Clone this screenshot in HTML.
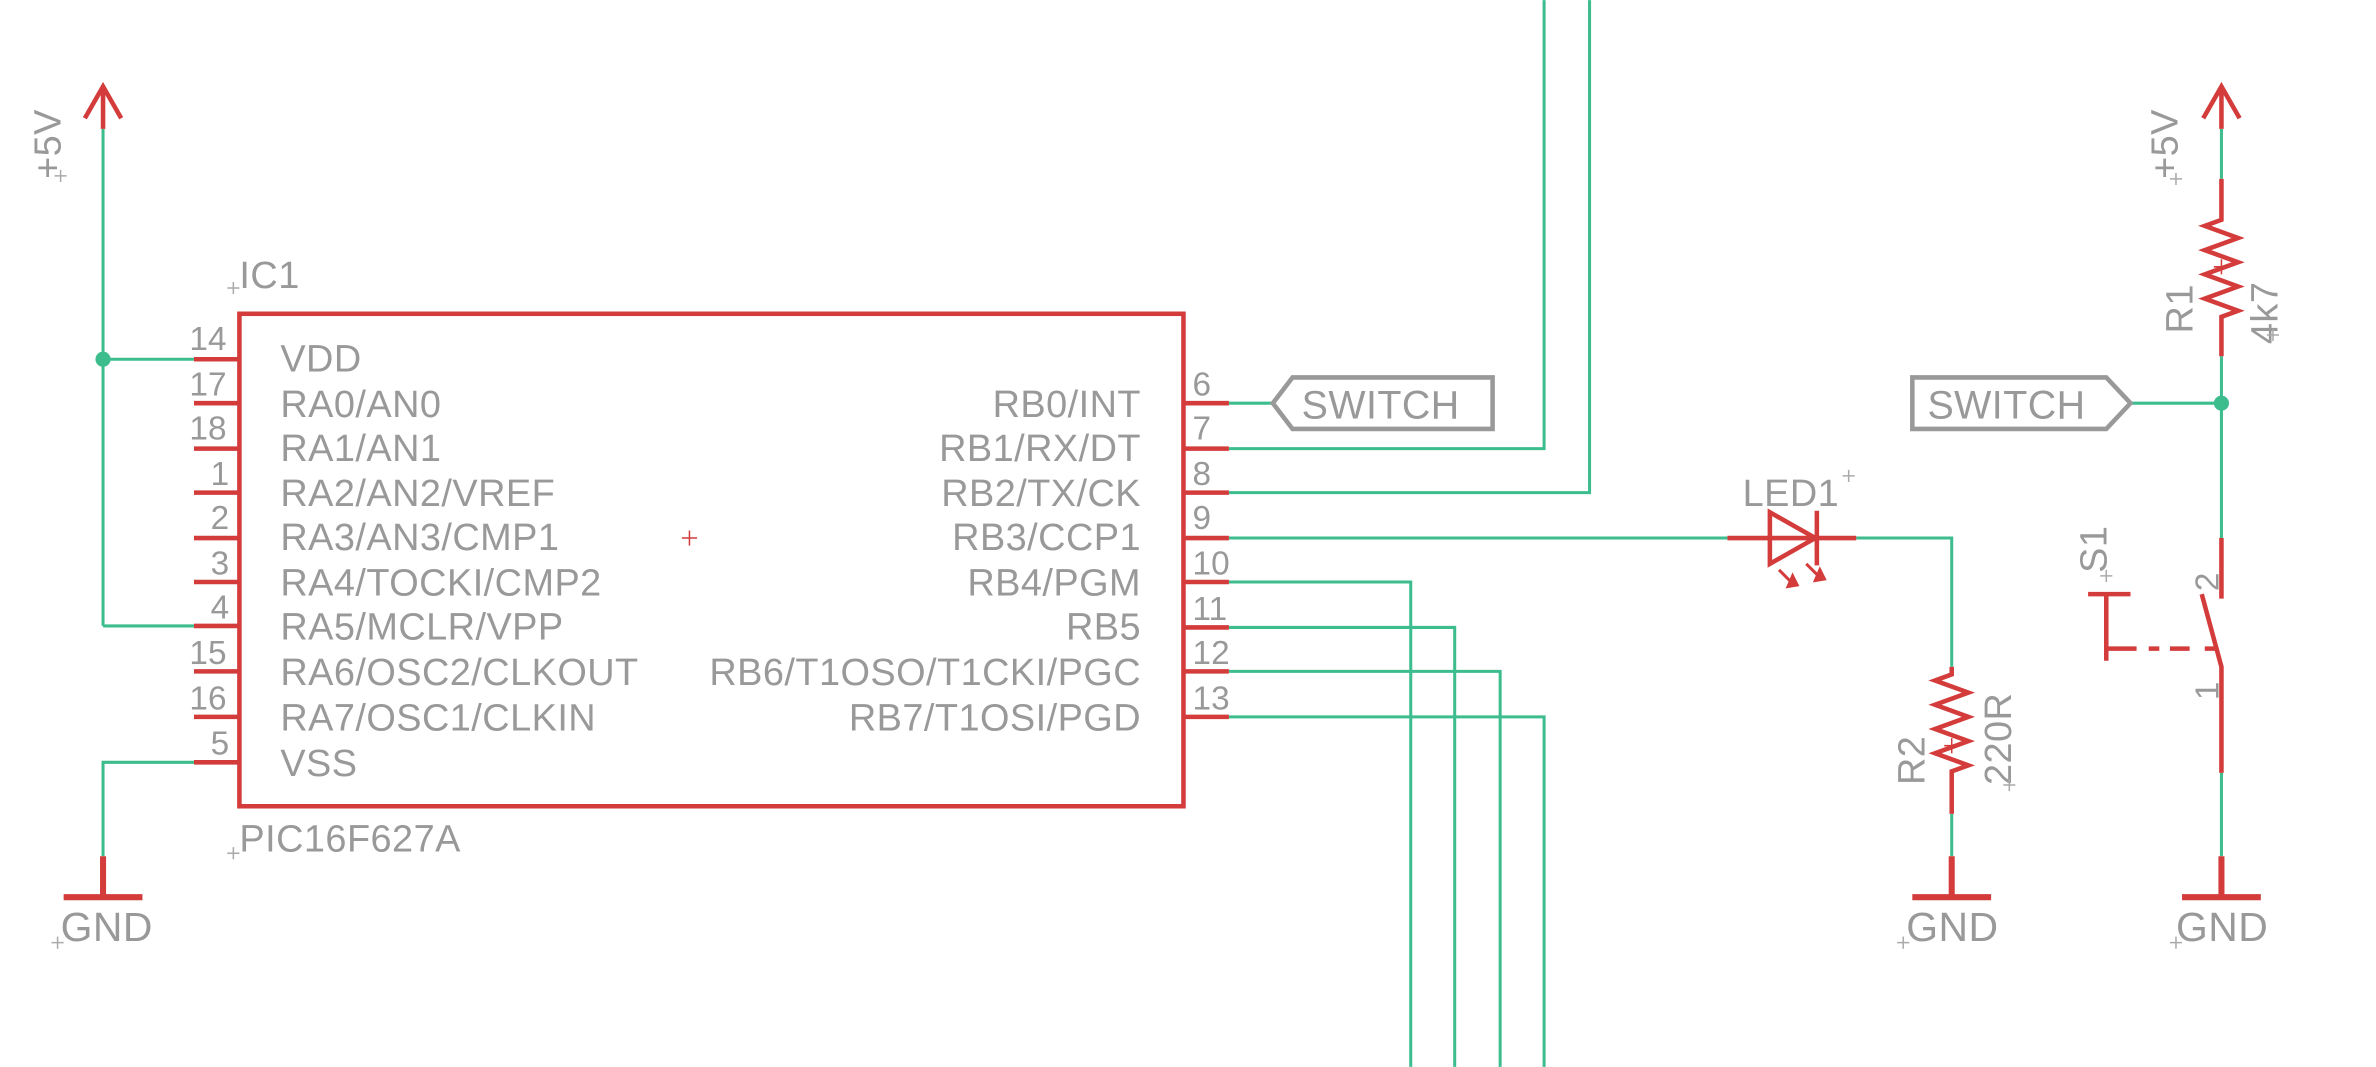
<!DOCTYPE html><html><head><style>html,body{margin:0;padding:0;background:#fff}svg{display:block}</style></head><body>
<svg width="2376" height="1067" viewBox="0 0 1568 704" xmlns="http://www.w3.org/2000/svg" font-family="Liberation Sans, sans-serif">
<g stroke="#3dbd8e" stroke-width="2" fill="none">
<path d="M68 85V413M68 237H128M68 413H128M128 503H68V565"/>
<path d="M811 266H840M811 296H1019V0M811 325H1049V0M811 355H1140M1225 355H1288V440M1288 537V565"/>
<path d="M811 384H931V704M811 414H960V704M811 443H990V704M811 473H1019V704"/>
<path d="M1466 85V118M1466 235V355M1406 266H1466M1466 510V565"/>
</g>
<circle cx="68" cy="237" r="5" fill="#3dbd8e"/><circle cx="1466" cy="266" r="5" fill="#3dbd8e"/>
<g stroke="#d43c3c" stroke-width="3" fill="none">
<rect x="158" y="207" width="623" height="325"/>
<path d="M56 78L68 57L80 78M68 57V85M1454 78L1466 57L1478 78M1466 57V85"/>
<path d="M128 237H158M128 266H158M128 296H158M128 325H158M128 355H158M128 384H158M128 413H158M128 443H158M128 473H158M128 503H158"/>
<path d="M781 266H811M781 296H811M781 325H811M781 355H811M781 384H811M781 414H811M781 443H811M781 473H811"/>
<path d="M68 565V592M42 592H94M1288 565V592M1262 592H1314M1466 565V592M1440 592H1492" stroke-width="4"/>
<path d="M1140 355H1225M1168 338V372L1198 355Z M1199 337V373"/>
<path d="M1174 376l10 10M1192 372l10 10" stroke-width="2"/>
<path d="M1288 440V445l-11 4 22 8-22 8 22 8-22 8 22 8-22 8 22 8 -11 4V537"/>
<path d="M1466 118V145l-11 4 22 8-22 8 22 8-22 8 22 8-22 8 22 8 -11 4V235"/>
<path d="M1466 355V395M1453 392L1466 440V510"/>
<path d="M1378 392H1406M1390 392V436M1390 428H1410M1418 428H1425M1432 428H1445M1455 428H1462"/>
</g>
<path d="M1180 387l6 -1 -3 -6zM1198 383l6 -1 -3 -6z" fill="#d43c3c" stroke="#d43c3c" stroke-width="2"/>
<g stroke="#999" stroke-width="3" fill="none">
<path d="M840 266L853 249H985V283H853Z"/>
<path d="M1262 249H1390L1406 266L1390 283H1262Z"/>
</g>
<g fill="#999" font-size="25" letter-spacing="0.3">
<text x="185" y="245">VDD</text><text x="185" y="275">RA0/AN0</text><text x="185" y="304">RA1/AN1</text><text x="185" y="334">RA2/AN2/VREF</text><text x="185" y="363">RA3/AN3/CMP1</text><text x="185" y="393">RA4/TOCKI/CMP2</text><text x="185" y="422">RA5/MCLR/VPP</text><text x="185" y="452">RA6/OSC2/CLKOUT</text><text x="185" y="482">RA7/OSC1/CLKIN</text><text x="185" y="512">VSS</text>
<g text-anchor="end"><text x="753" y="275">RB0/INT</text><text x="753" y="304">RB1/RX/DT</text><text x="753" y="334">RB2/TX/CK</text><text x="753" y="363">RB3/CCP1</text><text x="753" y="393">RB4/PGM</text><text x="753" y="422">RB5</text><text x="753" y="452">RB6/T1OSO/T1CKI/PGC</text><text x="753" y="482">RB7/T1OSI/PGD</text></g>
<g font-size="22" letter-spacing="0"><text x="125" y="231">14</text><text x="125" y="261">17</text><text x="125" y="290">18</text><text x="139" y="320">1</text><text x="139" y="349">2</text><text x="139" y="379">3</text><text x="139" y="408">4</text><text x="125" y="438">15</text><text x="125" y="468">16</text><text x="139" y="498">5</text>
<text x="787" y="261">6</text><text x="787" y="290">7</text><text x="787" y="320">8</text><text x="787" y="349">9</text><text x="787" y="379">10</text><text x="787" y="409">11</text><text x="787" y="438">12</text><text x="787" y="468">13</text></g>
<text x="158" y="190" font-size="25">IC1</text><text x="158" y="562" font-size="25">PIC16F627A</text>
<text x="859" y="276" font-size="26">SWITCH</text><text x="1272" y="276" font-size="26">SWITCH</text>
<text x="1150" y="334" font-size="25">LED1</text>
<text x="40" y="621" font-size="27">GND</text><text x="1258" y="621" font-size="27">GND</text><text x="1436" y="621" font-size="27">GND</text>
<text transform="translate(40 118) rotate(-90)" font-size="25">+5V</text><text transform="translate(1437 118) rotate(-90)" font-size="25">+5V</text>
<text transform="translate(1447 220) rotate(-90)" font-size="25">R1</text><text transform="translate(1503 227) rotate(-90)" font-size="25">4k7</text>
<text transform="translate(1270 518) rotate(-90)" font-size="25">R2</text><text transform="translate(1327 518) rotate(-90)" font-size="25">220R</text>
<text transform="translate(1390 378) rotate(-90)" font-size="25">S1</text>
<text transform="translate(1464 390) rotate(-90)" font-size="22">2</text><text transform="translate(1464 462) rotate(-90)" font-size="22">1</text>
</g>
<g stroke="#aaa" stroke-width="1"><path d="M36 116h8M40 112v8M150 190h8M154 186v8M150 563h8M154 559v8M34 622h8M38 618v8M1252 622h8M1256 618v8M1432 622h8M1436 618v8M1216 314h8M1220 310v8M1432 118h8M1436 114v8M1496 221h8M1500 217v8M1322 518h8M1326 514v8M1386 380h8M1390 376v8"/></g>
<path d="M450 355h10M455 350v10M1283 492h10M1288 487v10M1461 176h10M1466 171v10" stroke="#d43c3c" stroke-width="1"/>
</svg></body></html>
